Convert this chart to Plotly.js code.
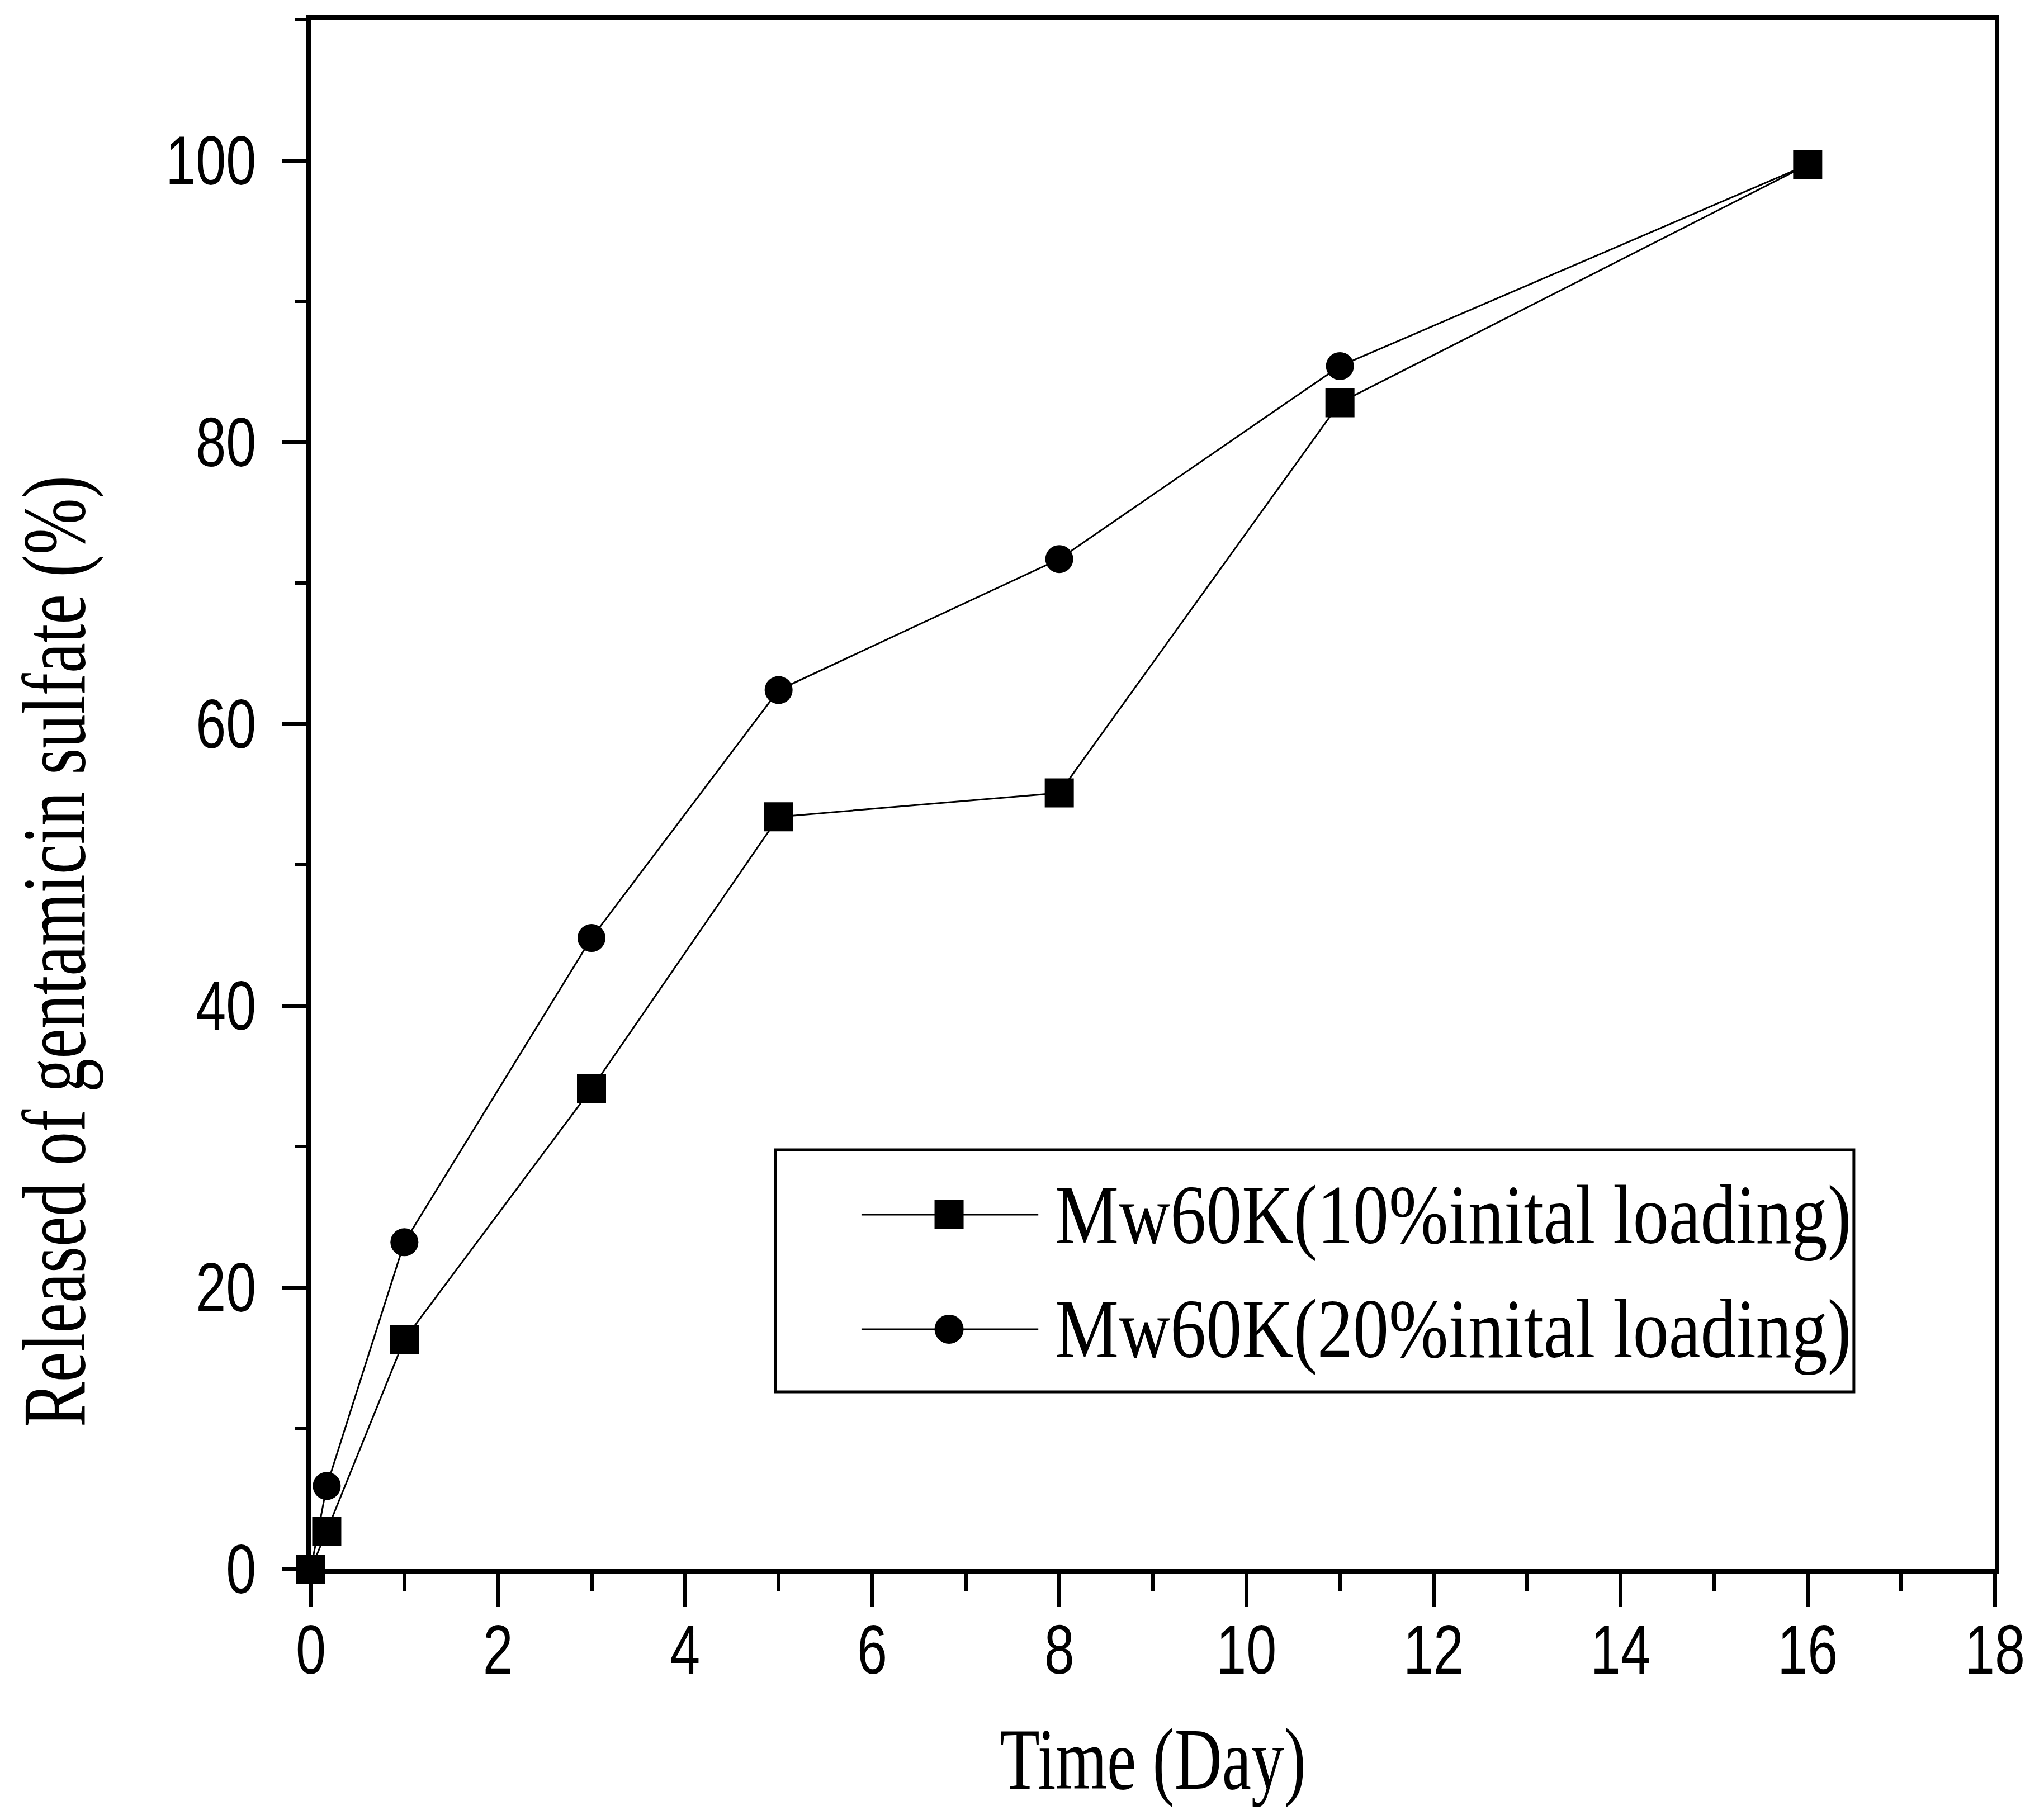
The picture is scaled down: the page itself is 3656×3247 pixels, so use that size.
<!DOCTYPE html>
<html>
<head>
<meta charset="utf-8">
<script src="https://cdn.plot.ly/plotly-3.0.1.min.js"></script>
<style>
  html, body { margin: 0; padding: 0; background: #ffffff; }
  #chart { width: 3656px; height: 3247px; }
</style>
</head>
<body>
<div id="chart"></div>
<script>
// ---- data ----
const seriesNames = ["Mw60K(10%inital loading)", "Mw60K(20%inital loading)"];
const days10 = [0, 0.17, 1, 3, 5, 8, 11, 16];
const release10 = [0, 2.7, 16.3, 34.1, 53.4, 55.1, 82.8, 99.7];
const days20 = [0, 0.17, 1, 3, 5, 8, 11, 16];
const release20 = [0, 5.9, 23.2, 44.8, 62.4, 71.7, 85.4, 99.7];
const xTickVals = [0, 2, 4, 6, 8, 10, 12, 14, 16, 18];
const yTickVals = [0, 20, 40, 60, 80, 100];
const xTitle = "Time (Day)";
const yTitle = "Released of gentamicin sulfate (%)";

const tickFont = { family: "Liberation Sans, Arial, sans-serif", size: 124, color: "#000" };
const serif = "Liberation Serif, Times New Roman, serif";

const traces = [
  {
    x: days20, y: release20, name: seriesNames[1], type: "scatter", mode: "lines+markers",
    line: { color: "#000", width: 3 },
    marker: { symbol: "circle", size: 50, color: "#000", line: { width: 0 } },
    cliponaxis: false, showlegend: false
  },
  {
    x: days10, y: release10, name: seriesNames[0], type: "scatter", mode: "lines+markers",
    line: { color: "#000", width: 3 },
    marker: { symbol: "square", size: 52, color: "#000", line: { width: 0 } },
    cliponaxis: false, showlegend: false
  }
];

// legend drawn as shapes + annotations (paper coordinates)
const legRows = [0.2287, 0.1548];
const legSymbols = ["rect", "circle"];
const shapes = [
  { type: "rect", xref: "paper", yref: "paper", x0: 0.2759, x1: 0.9163, y0: 0.1144, y1: 0.2706,
    line: { color: "#000", width: 5 }, fillcolor: "rgba(0,0,0,0)" }
];
const annotations = [];
legRows.forEach((ry, i) => {
  shapes.push({ type: "line", xref: "paper", yref: "paper", x0: 0.327, x1: 0.432, y0: ry, y1: ry,
    line: { color: "#000", width: 3 } });
  shapes.push({ type: legSymbols[i], xref: "paper", yref: "paper",
    xsizemode: "pixel", ysizemode: "pixel", xanchor: 0.379, yanchor: ry,
    x0: -26, x1: 26, y0: -26, y1: 26, line: { width: 0 }, fillcolor: "#000" });
  annotations.push({ xref: "paper", yref: "paper", x: 0.6783, y: ry, xanchor: "center", yanchor: "middle",
    text: seriesNames[i], showarrow: false, font: { family: serif, size: 150, color: "#000" } });
});

const layout = {
  width: 3656, height: 3247,
  margin: { l: 556, r: 88, t: 35, b: 440 },
  paper_bgcolor: "#fff", plot_bgcolor: "#fff",
  showlegend: false,
  xaxis: {
    range: [0, 18], tickvals: xTickVals, ticktext: xTickVals.map(String),
    ticks: "outside", ticklen: 60, tickwidth: 7, tickcolor: "#000", ticklabelstandoff: -30,
    minor: { dtick: 1, tick0: 0, ticks: "outside", ticklen: 32, tickwidth: 7, tickcolor: "#000", showgrid: false },
    showline: true, linewidth: 8, linecolor: "#000", mirror: true,
    showgrid: false, zeroline: false, tickfont: tickFont, automargin: true,
    title: { text: xTitle, font: { family: serif, size: 156, color: "#000" }, standoff: 75 }
  },
  yaxis: {
    range: [0, 110], tickvals: yTickVals, ticktext: yTickVals.map(String),
    ticks: "outside", ticklen: 43, tickwidth: 7, tickcolor: "#000", ticklabelstandoff: 22,
    minor: { dtick: 10, tick0: 0, ticks: "outside", ticklen: 20, tickwidth: 6, tickcolor: "#000", showgrid: false },
    showline: true, linewidth: 8, linecolor: "#000", mirror: true,
    showgrid: false, zeroline: false, tickfont: tickFont, automargin: true,
    title: { text: yTitle, font: { family: serif, size: 162, color: "#000" }, standoff: 40 }
  },
  shapes: shapes,
  annotations: annotations
};

Plotly.newPlot("chart", traces, layout, { displayModeBar: false, staticPlot: true }).then(gd => {
  const squeeze = (el, len) => {
    if (!el) return;
    el.setAttribute("textLength", len);
    el.setAttribute("lengthAdjust", "spacingAndGlyphs");
  };
  squeeze(gd.querySelector(".xtitle"), 548);
  squeeze(gd.querySelector(".ytitle"), 1702);
  const yt = gd.querySelector(".g-ytitle");
  if (yt) yt.setAttribute("transform", "translate(-8,281)");
  gd.querySelectorAll(".annotation-text").forEach(el => squeeze(el, 1424));
  gd.querySelectorAll(".xtick text, .ytick text").forEach(el => {
    const n = (el.textContent || "").length;
    squeeze(el, n * 54);
  });
});
</script>
</body>
</html>
